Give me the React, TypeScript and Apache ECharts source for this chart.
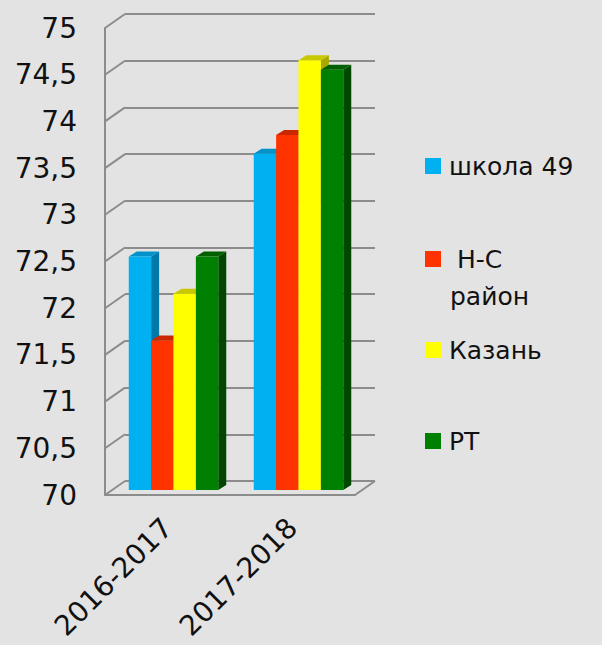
import React, { useEffect, useRef } from 'react';
import * as echarts from 'echarts';

const categories = ['2016-2017', '2017-2018'];
const seriesNames = ['школа 49', 'Н-С район', 'Казань', 'РТ'];
const school49 = [72.5, 73.6];
const nsDistrict = [71.6, 73.8];
const kazan = [72.1, 74.6];
const rt = [72.5, 74.5];
const yTicks = [70, 70.5, 71, 71.5, 72, 72.5, 73, 73.5, 74, 74.5, 75];

const FRONT = ['#00B0F0', '#FF3300', '#FFFF00', '#008000'];
const TOP = ['#0092c8', '#c92800', '#c8c800', '#006000'];
const SIDE = ['#0078a8', '#a82000', '#a8a800', '#004800'];
const GRID = '#8c8c8c';
const FONT = 'DejaVu Sans';

const WALL_DX = 20;
const WALL_DY = 14;
const BAR_OFF_X = 6;
const BAR_OFF_Y = -5;
const BAR_DX = 8;
const BAR_DY = 5;

const seriesValues = [school49, nsDistrict, kazan, rt];
const legendCenters = [166, 259, 350, 441];

export default function App() {
  const ref = useRef<HTMLDivElement>(null);
  useEffect(() => {
    if (!ref.current) return;
    const chart = echarts.init(ref.current, null, { renderer: 'svg' });

    const barSeries = seriesValues.map((vals, si) => ({
      type: 'custom',
      name: seriesNames[si],
      xAxisIndex: 0,
      yAxisIndex: 0,
      z: 5,
      clip: false,
      itemStyle: { color: FRONT[si] },
      encode: { x: 0, y: 1 },
      data: vals.map((v, i) => [i, v]),
      renderItem: (params: any, api: any) => {
        const c = api.value(0);
        const v = api.value(1);
        const top = api.coord([c, v]);
        const base = api.coord([c, 70]);
        const band = api.size([1, 0])[0];
        const bw = band * 0.179;
        const x0 = top[0] - 2 * bw + si * bw + BAR_OFF_X;
        const x1 = x0 + bw;
        const yt = top[1] + BAR_OFF_Y;
        const yb = base[1] + BAR_OFF_Y;
        return {
          type: 'group',
          children: [
            {
              type: 'polygon',
              shape: { points: [[x1, yt], [x1 + BAR_DX, yt - BAR_DY], [x1 + BAR_DX, yb - BAR_DY], [x1, yb]] },
              style: { fill: SIDE[si] },
            },
            {
              type: 'polygon',
              shape: { points: [[x0, yt], [x0 + BAR_DX, yt - BAR_DY], [x1 + BAR_DX, yt - BAR_DY], [x1, yt]] },
              style: { fill: TOP[si] },
            },
            {
              type: 'rect',
              shape: { x: x0, y: yt, width: bw, height: yb - yt },
              style: { fill: FRONT[si] },
            },
          ],
        };
      },
    }));

    const wallSeries = {
      type: 'custom',
      name: 'wall',
      xAxisIndex: 0,
      yAxisIndex: 0,
      z: 1,
      clip: false,
      silent: true,
      encode: { x: 0, y: 1 },
      data: yTicks.map((v) => [0, v]),
      renderItem: (params: any, api: any) => {
        const v = api.value(1);
        const p = api.coord([0, v]);
        const cs = params.coordSys;
        const children: any[] = [
          {
            type: 'line',
            shape: { x1: cs.x, y1: p[1], x2: cs.x + WALL_DX, y2: p[1] - WALL_DY },
            style: { stroke: GRID, lineWidth: 2 },
          },
        ];
        if (params.dataIndex === 0) {
          children.push({
            type: 'line',
            shape: { x1: cs.x + cs.width, y1: p[1], x2: cs.x + cs.width + WALL_DX, y2: p[1] - WALL_DY },
            style: { stroke: GRID, lineWidth: 2 },
          });
        }
        return { type: 'group', children };
      },
    };

    const legends = seriesNames.map((n, i) => ({
      data: [n],
      orient: 'vertical',
      left: 425,
      top: legendCenters[i] - 14,
      padding: 0,
      icon: 'rect',
      itemWidth: 16,
      itemHeight: 16,
      itemGap: 0,
      selectedMode: false,
      formatter: (name: string) => (name === 'Н-С район' ? ' Н-С' : name),
      textStyle: { fontSize: 25, fontFamily: FONT, color: '#111', lineHeight: 28, padding: [0, 0, 0, 3] },
    }));

    chart.setOption({
      animation: false,
      backgroundColor: '#e3e3e3',
      legend: legends,
      graphic: [
        {
          type: 'text',
          left: 450,
          top: 284,
          style: { text: 'район', fontSize: 25, fontFamily: FONT, fill: '#111' },
        },
      ],
      grid: [
        { left: 105, top: 28, width: 250, height: 467 },
        { left: 125, top: 14, width: 250, height: 467 },
      ],
      xAxis: [
        {
          type: 'category',
          gridIndex: 0,
          data: categories,
          axisLine: { show: true, lineStyle: { color: GRID, width: 2 } },
          axisTick: { show: false },
          axisLabel: { rotate: 45, margin: 28, fontSize: 28, fontFamily: FONT, color: '#111' },
        },
        {
          type: 'category',
          gridIndex: 1,
          data: categories,
          show: false,
        },
      ],
      yAxis: [
        {
          type: 'value',
          gridIndex: 0,
          min: 70,
          max: 75,
          interval: 0.5,
          axisLine: { show: true, lineStyle: { color: GRID, width: 2 } },
          axisTick: { show: false },
          splitLine: { show: false },
          axisLabel: {
            margin: 28,
            fontSize: 28,
            fontFamily: FONT,
            color: '#111',
            formatter: (v: number) => String(v).replace('.', ','),
          },
        },
        {
          type: 'value',
          gridIndex: 1,
          min: 70,
          max: 75,
          interval: 0.5,
          axisLine: { show: false },
          axisTick: { show: false },
          axisLabel: { show: false },
          splitLine: { show: true, lineStyle: { color: GRID, width: 2 } },
        },
      ],
      series: [wallSeries, ...barSeries],
    });
    return () => chart.dispose();
  }, []);
  return <div ref={ref} style={{ position: 'fixed', left: 0, top: 0, width: 602, height: 645 }} />;
}
